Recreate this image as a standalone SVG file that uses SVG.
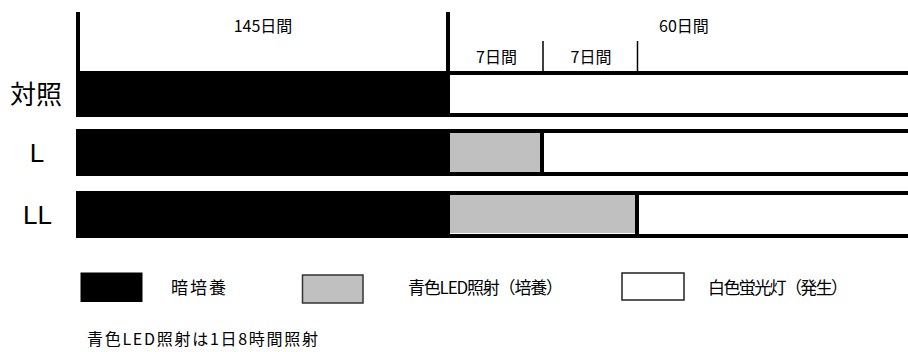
<svg xmlns="http://www.w3.org/2000/svg" width="908" height="352" viewBox="0 0 908 352">
<style>
.t{font-family:"Noto Sans CJK JP","Liberation Sans",sans-serif;fill:#000}
.h{font-size:16px;text-anchor:middle}
.row{font-size:26px}
.lat{font-family:"Liberation Sans","Noto Sans CJK JP",sans-serif;font-size:26px;text-anchor:middle;fill:#000}
.lg{font-size:17px}
.dark{fill:#000}
.light{fill:#c0c0c0}
.white{fill:#fff;stroke:#000;stroke-width:4}
.div{stroke:#000;stroke-width:4}
.tick{stroke:#000;stroke-width:1.5}
</style>
<rect width="908" height="352" fill="#fff"/>
<g id="header">
  <line x1="78" y1="12" x2="78" y2="72" class="div"/>
  <line x1="448" y1="12" x2="448" y2="72" class="div"/>
  <line x1="543" y1="41" x2="543" y2="72" class="tick"/>
  <line x1="637.5" y1="41" x2="637.5" y2="72" class="tick"/>
  <text x="263" y="32" class="t h">145日間</text>
  <text x="684" y="32" class="t h">60日間</text>
  <text x="496.5" y="63" class="t h">7日間</text>
  <text x="591" y="63" class="t h">7日間</text>
</g>
<g id="row-control">
  <rect x="448" y="73" width="464" height="42" class="white"/>
  <rect x="76" y="71" width="374" height="46" class="dark"/>
  <text x="10" y="104" class="t row">対照</text>
</g>
<g id="row-L">
  <rect x="448" y="131" width="464" height="43" class="white"/>
  <rect x="76" y="129" width="374" height="47" class="dark"/>
  <rect x="450" y="133" width="90" height="39" class="light"/>
  <line x1="542" y1="129" x2="542" y2="176" class="div"/>
  <text x="37" y="162" class="lat">L</text>
</g>
<g id="row-LL">
  <rect x="448" y="193" width="464" height="43" class="white"/>
  <rect x="76" y="191" width="374" height="47" class="dark"/>
  <rect x="450" y="195" width="185" height="38" class="light"/>
  <line x1="637" y1="191" x2="637" y2="238" class="div"/>
  <text x="37.5" y="224" class="lat">LL</text>
</g>
<g id="legend">
  <rect x="80.5" y="272.5" width="62" height="29.5" class="dark"/>
  <text x="171" y="294" class="t lg" textLength="55" lengthAdjust="spacing">暗培養</text>
  <rect x="302.5" y="275" width="60.5" height="28" fill="#c0c0c0" stroke="#333" stroke-width="1.5"/>
  <text x="408" y="294" class="t lg" textLength="155" lengthAdjust="spacing">青色LED照射（培養）</text>
  <rect x="622" y="273" width="62" height="27" fill="#fff" stroke="#222" stroke-width="1.5"/>
  <text x="708" y="294" class="t lg" textLength="140" lengthAdjust="spacing">白色蛍光灯（発生）</text>
</g>
<g id="note">
  <text x="87" y="345" class="t" font-size="16" textLength="231" lengthAdjust="spacing">青色LED照射は1日8時間照射</text>
</g>
</svg>
